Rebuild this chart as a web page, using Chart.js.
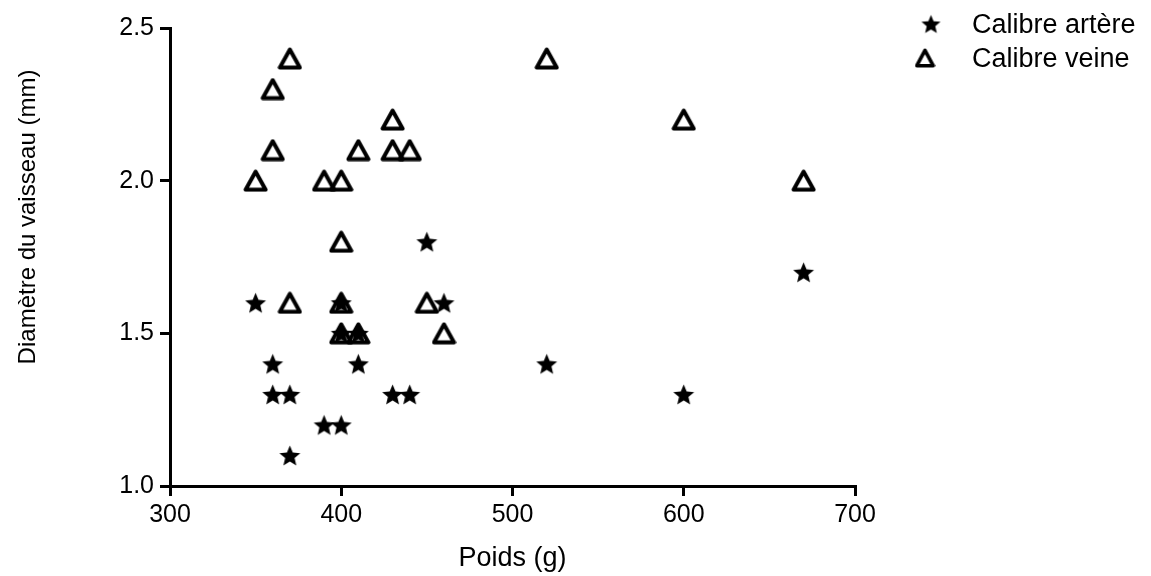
<!DOCTYPE html>
<html>
<head>
<meta charset="utf-8">
<script src="https://cdn.jsdelivr.net/npm/chart.js@4.4.1/dist/chart.umd.min.js"></script>
<style>
  html, body { margin: 0; padding: 0; background: #fff; }
  #wrap { width: 1151px; height: 576px; }
</style>
</head>
<body>
<div id="wrap"><canvas id="chart" width="1151" height="576"></canvas></div>
<script>
// ── Data ────────────────────────────────────────
const arteryWeights = [350, 360, 360, 370, 370, 390, 400, 400, 400, 410, 410, 430, 440, 450, 460, 520, 600, 670];
const arteryCalibre = [1.6, 1.4, 1.3, 1.3, 1.1, 1.2, 1.2, 1.6, 1.5, 1.5, 1.4, 1.3, 1.3, 1.8, 1.6, 1.4, 1.3, 1.7];

const veinWeights = [350, 360, 360, 370, 370, 390, 400, 400, 400, 400, 410, 410, 430, 430, 440, 450, 460, 520, 600, 670];
const veinCalibre = [2.0, 2.3, 2.1, 2.4, 1.6, 2.0, 2.0, 1.8, 1.6, 1.5, 2.1, 1.5, 2.2, 2.1, 2.1, 1.6, 1.5, 2.4, 2.2, 2.0];

const seriesLabels = ['Calibre artère', 'Calibre veine'];
const xTicks = [300, 400, 500, 600, 700];
const yTicks = [1.0, 1.5, 2.0, 2.5];
const xTitle = 'Poids (g)';
const yTitle = 'Diamètre du vaisseau (mm)';

const FONT = '"Liberation Sans", Arial, sans-serif';

// ── Marker images ───────────────────────────────
// filled five-point star, centred on its bounding box
function makeStar(size) {
    const c = document.createElement('canvas');
    c.width = size; c.height = size;
    const g = c.getContext('2d');
    const outer = size / 2 - 0.5, inner = outer * 0.45;
    const cx = size / 2, cy = size / 2 + 0.095 * outer;
    g.beginPath();
    for (let i = 0; i < 10; i++) {
        const r = i % 2 === 0 ? outer : inner;
        const a = -Math.PI / 2 + i * Math.PI / 5;
        const px = cx + r * Math.cos(a), py = cy + r * Math.sin(a);
        if (i === 0) g.moveTo(px, py); else g.lineTo(px, py);
    }
    g.closePath();
    g.fillStyle = '#000';
    g.fill();
    return c;
}

// open triangle with thick rounded outline
function makeTriangle(w, h, lw) {
    const c = document.createElement('canvas');
    c.width = w; c.height = h;
    const g = c.getContext('2d');
    const m = lw / 2 + 0.5;
    g.beginPath();
    g.moveTo(w / 2, m);
    g.lineTo(w - m, h - m);
    g.lineTo(m, h - m);
    g.closePath();
    g.lineJoin = 'round';
    g.lineWidth = lw;
    g.strokeStyle = '#000';
    g.stroke();
    return c;
}

const starImg = makeStar(23);
const starLegend = makeStar(21);
const triImg = makeTriangle(25, 23, 4);
const triLegend = makeTriangle(21, 20, 3.6);

const toPoints = (xs, ys) => xs.map((x, i) => ({ x, y: ys[i] }));

// ── Plugins ─────────────────────────────────────
const textPlugin = {
    id: 'sideText',
    afterDraw(chart) {
        const ctx = chart.ctx;
        ctx.save();
        ctx.fillStyle = '#000';

        // legend, top right
        ctx.font = '27px ' + FONT;
        ctx.textAlign = 'left';
        ctx.textBaseline = 'alphabetic';
        ctx.drawImage(starLegend, 931 - starLegend.width / 2, 24 - starLegend.height / 2);
        ctx.fillText(seriesLabels[0], 972, 33);
        ctx.drawImage(triLegend, 925 - triLegend.width / 2, 58 - triLegend.height / 2);
        ctx.fillText(seriesLabels[1], 972, 67);

        // y axis title
        ctx.font = '24px ' + FONT;
        ctx.translate(28, 217);
        ctx.rotate(-Math.PI / 2);
        ctx.textAlign = 'center';
        ctx.textBaseline = 'middle';
        ctx.fillText(yTitle, 0, 0);
        ctx.restore();
    }
};

const axisBase = {
    type: 'linear',
    border: { display: true, color: '#000', width: 3 },
    grid: { drawOnChartArea: false, drawTicks: true, tickLength: 10, color: '#000', lineWidth: 3 },
    ticks: { color: '#000', font: { family: FONT, size: 25 }, padding: 4 }
};

new Chart(document.getElementById('chart'), {
    type: 'scatter',
    data: {
        datasets: [
            {
                label: seriesLabels[1],
                data: toPoints(veinWeights, veinCalibre),
                pointStyle: triImg,
                pointRadius: 12
            },
            {
                label: seriesLabels[0],
                data: toPoints(arteryWeights, arteryCalibre),
                pointStyle: starImg,
                pointRadius: 11
            }
        ]
    },
    options: {
        responsive: false,
        animation: false,
        events: [],
        layout: { padding: { left: 10, right: 296, top: 28, bottom: 0 } },
        plugins: { legend: { display: false }, tooltip: { enabled: false } },
        scales: {
            x: {
                ...axisBase,
                min: 300, max: 700,
                afterBuildTicks: axis => { axis.ticks = xTicks.map(v => ({ value: v })); },
                afterFit: axis => { axis.height = 90; },
                ticks: { ...axisBase.ticks, callback: v => String(v) },
                title: { display: true, text: xTitle, color: '#000',
                         font: { family: FONT, size: 27 }, padding: { top: 0, bottom: 1 } }
            },
            y: {
                ...axisBase,
                min: 1.0, max: 2.5,
                afterBuildTicks: axis => { axis.ticks = yTicks.map(v => ({ value: v })); },
                afterFit: axis => { axis.width = 160; },
                ticks: { ...axisBase.ticks, padding: 6, callback: v => v.toFixed(1) },
                title: { display: false }
            }
        }
    },
    plugins: [textPlugin]
});
</script>
</body>
</html>
